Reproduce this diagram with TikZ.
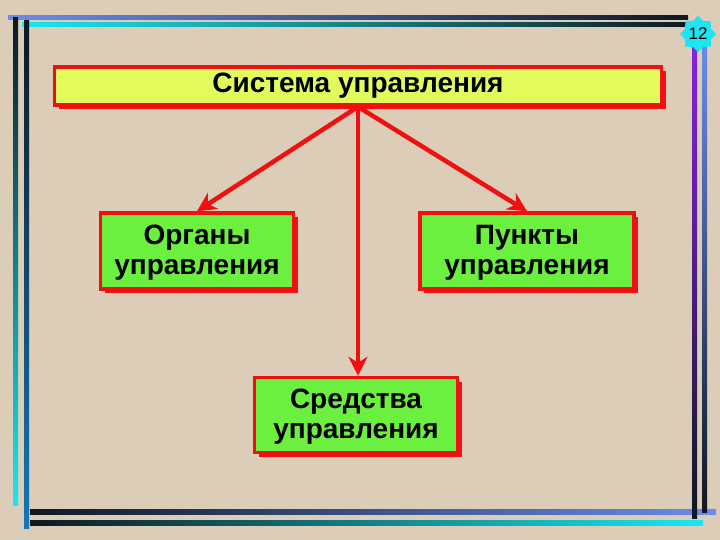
\documentclass[tikz,border=0pt]{standalone}
\usepackage{fontspec}
\setmainfont{Liberation Sans}
\usetikzlibrary{arrows.meta,positioning,shadows,shapes.geometric}
\definecolor{slidebg}{HTML}{DBCDB7}
\definecolor{boxred}{HTML}{F01010}
\definecolor{titlefill}{HTML}{E2FA5C}
\definecolor{boxgreen}{HTML}{6CF040}
\definecolor{badgecyan}{HTML}{1CE6F4}
\definecolor{lineblue}{HTML}{6A8CEC}
\definecolor{linecyan}{HTML}{18E8F0}
\definecolor{linedark}{HTML}{101820}
\definecolor{linepurple}{HTML}{8A22E0}
\definecolor{lineteal}{HTML}{1478B8}
\tikzset{
  rbox/.style={draw=boxred,line width=3.5pt,fill=boxgreen,align=center,font=\bfseries\fontsize{28}{30}\selectfont,inner sep=0pt,
    drop shadow={fill=boxred,opacity=1,shadow xshift=4pt,shadow yshift=-4pt}},
  headbox/.style={rbox,fill=titlefill,font=\bfseries\fontsize{28}{30}\selectfont},
  link/.style={-{Stealth[length=19pt,width=19pt,inset=6pt]},line width=4.5pt,color=boxred},
}

\begin{document}
\begin{tikzpicture}[x=1pt,y=-1pt]
  \fill[slidebg] (0,0) rectangle (720,540);
  \useasboundingbox (0,0) rectangle (720,540);
  % frame
  \shade[left color=lineblue,right color=linedark] (8,16) rectangle (688,20);
  \shade[left color=linecyan,right color=linedark] (22,23) rectangle (688,27);
  \shade[top color=linedark,bottom color=linecyan] (13,18) rectangle (18,505);
  \shade[top color=linedark,bottom color=lineteal] (24,21) rectangle (29,528);
  \shade[left color=linedark,right color=lineblue] (30,509) rectangle (716,514);
  \shade[left color=linedark,right color=linecyan] (30,520) rectangle (703,525);
  \shade[top color=linepurple,bottom color=linedark] (692,42) rectangle (697,518);
  \shade[top color=lineblue,bottom color=linedark] (702,42) rectangle (707,512);
  \node[star,star points=8,star point ratio=1.3,fill=badgecyan,minimum size=36pt,inner sep=0pt,font=\fontsize{17}{17}\selectfont] (badge) at (698,34) {12};
  % boxes
  \node[headbox,minimum width=607pt,minimum height=38pt] (sys) at (358,86) {Система управления};
  \node[rbox,minimum width=193pt,minimum height=76pt,text depth=2pt] (organs) at (197,251) {Органы\\управления};
  \node[rbox,minimum width=214pt,minimum height=76pt,text depth=2pt] (points) at (527,251) {Пункты\\управления};
  \node[rbox,minimum width=203pt,minimum height=75pt,text depth=2pt] (means) at (356,415) {Средства\\управления};
  \draw[link] (sys.south) -- (organs.north);
  \draw[link] (sys.south) -- (points.north);
  \draw[link] (sys.south) -- (sys.south |- means.north);
\end{tikzpicture}
\end{document}
